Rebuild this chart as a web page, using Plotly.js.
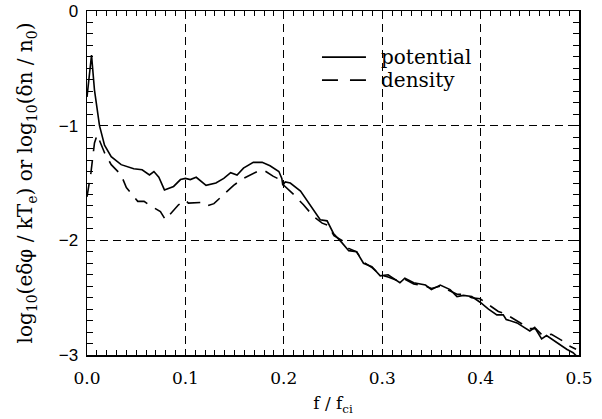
<!DOCTYPE html>
<html>
<head>
<meta charset="utf-8">
<script src="https://cdn.plot.ly/plotly-3.0.1.min.js"></script>
<style>html,body{margin:0;padding:0;background:#fff;}#chart{width:602px;height:419px;}</style>
</head>
<body>
<div id="chart"></div>
<script>
// potential (solid)
const potX = [0, 0.0046, 0.0076, 0.0127, 0.0178, 0.0246, 0.0347, 0.0475, 0.056, 0.0635, 0.068, 0.073, 0.0787, 0.088, 0.095, 0.100, 0.105, 0.111, 0.121, 0.131, 0.139, 0.146, 0.1525, 0.159, 0.169, 0.178, 0.186, 0.195, 0.198, 0.199, 0.2015, 0.2066, 0.217, 0.227, 0.237, 0.244, 0.2505, 0.259, 0.266, 0.274, 0.281, 0.2895, 0.298, 0.306, 0.318, 0.323, 0.332, 0.344, 0.350, 0.359, 0.369, 0.376, 0.3825, 0.391, 0.3995, 0.408, 0.4165, 0.423, 0.426, 0.437, 0.450, 0.455, 0.462, 0.467, 0.477, 0.4875, 0.494, 0.4975, 0.5];
const potY = [-0.75, -0.385, -0.69, -1.0, -1.17, -1.27, -1.34, -1.375, -1.385, -1.43, -1.40, -1.45, -1.56, -1.53, -1.47, -1.46, -1.47, -1.45, -1.52, -1.50, -1.46, -1.41, -1.43, -1.37, -1.32, -1.32, -1.35, -1.40, -1.46, -1.52, -1.49, -1.50, -1.57, -1.70, -1.82, -1.83, -1.94, -2.02, -2.09, -2.10, -2.20, -2.23, -2.31, -2.30, -2.37, -2.33, -2.37, -2.39, -2.43, -2.39, -2.43, -2.49, -2.48, -2.49, -2.54, -2.60, -2.65, -2.65, -2.69, -2.72, -2.79, -2.76, -2.86, -2.83, -2.89, -2.95, -2.98, -3.01, -3.03];
// density (dashed)
const denX = [0, 0.004, 0.0076, 0.0104, 0.018, 0.0246, 0.0347, 0.040, 0.0516, 0.058, 0.063, 0.0746, 0.0797, 0.083, 0.093, 0.100, 0.103, 0.117, 0.122, 0.129, 0.139, 0.149, 0.159, 0.173, 0.180, 0.189, 0.196, 0.200, 0.210, 0.220, 0.230, 0.239, 0.245, 0.251, 0.259, 0.266, 0.274, 0.281, 0.290, 0.298, 0.306, 0.318, 0.323, 0.332, 0.344, 0.350, 0.359, 0.369, 0.376, 0.383, 0.391, 0.3995, 0.411, 0.418, 0.425, 0.437, 0.450, 0.456, 0.463, 0.472, 0.484, 0.490, 0.497];
const denY = [-1.62, -1.41, -1.15, -1.08, -1.24, -1.34, -1.43, -1.54, -1.66, -1.66, -1.69, -1.75, -1.82, -1.79, -1.69, -1.65, -1.675, -1.67, -1.70, -1.68, -1.60, -1.52, -1.46, -1.40, -1.39, -1.44, -1.47, -1.52, -1.60, -1.69, -1.79, -1.85, -1.87, -1.96, -2.00, -2.07, -2.10, -2.19, -2.24, -2.30, -2.32, -2.36, -2.34, -2.38, -2.40, -2.42, -2.40, -2.44, -2.47, -2.47, -2.50, -2.51, -2.58, -2.62, -2.64, -2.70, -2.77, -2.77, -2.83, -2.82, -2.88, -2.92, -2.95];
const seriesNames = ["potential", "density"];
const xTitle = "f / f<sub>ci</sub>";
const yTitle = "log<sub>10</sub>(eδφ / kT<sub>e</sub>) or log<sub>10</sub>(δn / n<sub>0</sub>)";

const serif = "DejaVu Serif, serif";
const sans = "Liberation Sans, Arial, sans-serif";
const denDash = "14px,9px";

const traces = [
  {x: potX, y: potY, mode: "lines", name: seriesNames[0], line: {color: "#000", width: 1.6}, showlegend: false},
  {x: denX, y: denY, mode: "lines", name: seriesNames[1], line: {color: "#000", width: 1.6, dash: denDash}, showlegend: false}
];

const axisCommon = {
  showline: true, linecolor: "#000", linewidth: 1.5, mirror: "ticks",
  ticks: "inside", ticklen: 6, tickwidth: 1, tickcolor: "#000",
  showgrid: true, gridcolor: "#000", gridwidth: 1, griddash: "8px,5px",
  zeroline: false
};

const layout = {
  width: 602, height: 419,
  margin: {l: 87, r: 23, t: 11, b: 64},
  paper_bgcolor: "#fff", plot_bgcolor: "#fff",
  showlegend: false,
  xaxis: Object.assign({}, axisCommon, {
    range: [0, 0.5], dtick: 0.1, tick0: 0, tickformat: ".1f",
    minor: {dtick: 0.01, ticks: "inside", ticklen: 5, tickcolor: "#000", showgrid: false},
    tickfont: {family: serif, size: 17, color: "#000"},
    ticklabelstandoff: 7,
    title: {text: xTitle, font: {family: serif, size: 17, color: "#000"}, standoff: 10}
  }),
  yaxis: Object.assign({}, axisCommon, {
    range: [-3, 0], dtick: 1, tick0: 0, tickformat: "d",
    minor: {dtick: 0.1, ticks: "inside", ticklen: 6, tickcolor: "#000", showgrid: false},
    tickfont: {family: sans, size: 17, color: "#000"},
    ticklabelstandoff: 4,
    title: {text: yTitle, font: {family: serif, size: 20, color: "#000"}, standoff: 20}
  }),
  shapes: [
    {type: "line", xref: "paper", yref: "paper", x0: 0.4776, x1: 0.567, y0: 0.866, y1: 0.866, line: {color: "#000", width: 1.6}},
    {type: "line", xref: "paper", yref: "paper", x0: 0.4776, x1: 0.567, y0: 0.799, y1: 0.799, line: {color: "#000", width: 1.6, dash: "16px,12px"}}
  ],
  annotations: [
    {xref: "paper", yref: "paper", x: 0.594, y: 0.866, xanchor: "left", yanchor: "middle", showarrow: false, text: seriesNames[0], font: {family: serif, size: 20, color: "#000"}},
    {xref: "paper", yref: "paper", x: 0.594, y: 0.799, xanchor: "left", yanchor: "middle", showarrow: false, text: seriesNames[1], font: {family: serif, size: 20, color: "#000"}}
  ]
};

Plotly.newPlot("chart", traces, layout, {staticPlot: true, displayModeBar: false});
</script>
</body>
</html>
